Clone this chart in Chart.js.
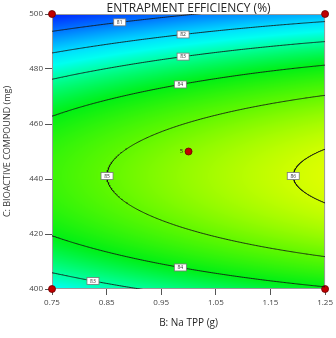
<!DOCTYPE html>
<html lang="en">
<head>
<meta charset="UTF-8">
<title>Entrapment Efficiency</title>
<script src="https://cdn.jsdelivr.net/npm/chart.js@4.4.0/dist/chart.umd.min.js"></script>
<style>
  html, body { margin: 0; padding: 0; background: #fff; }
  #wrap { width: 336px; height: 338px; }
</style>
</head>
<body>
<div id="wrap"><canvas id="chart" width="336" height="338"></canvas></div>
<script>
// factor ranges and ticks
const naTppRange = [0.75, 1.25];
const bioactiveRange = [400, 500];
const xTicks = [0.75, 0.85, 0.95, 1.05, 1.15, 1.25];
const yTicks = [400, 420, 440, 460, 480, 500];

// fitted quadratic, coded units: b0, B, C, B^2, C^2, BC
const coefs = [85.39, 0.754, -1.164, -0.122, -3.27, 0];
const levels = [81, 82, 83, 84, 85, 86];

// design points (center point has 5 replicates)
const designB = [0.75, 1.25, 0.75, 1.25, 1.0];
const designC = [500, 500, 400, 400, 450];
const centerReps = '5';

// where the contour labels sit: level, B, branch
const labelLevels = [81, 82, 83, 84, 85, 86, 84, 83];
const labelB = [0.874, 0.99, 0.99, 0.985, null, null, 0.985, 0.825];
const labelBranch = ['hi', 'hi', 'hi', 'hi', 'tip', 'tip', 'lo', 'lo'];

const FONT = "'Open Sans', 'DejaVu Sans', sans-serif";

const bMid = (naTppRange[0] + naTppRange[1]) / 2, bHalf = (naTppRange[1] - naTppRange[0]) / 2;
const cMid = (bioactiveRange[0] + bioactiveRange[1]) / 2, cHalf = (bioactiveRange[1] - bioactiveRange[0]) / 2;
const toB = u => bMid + u * bHalf;
const toC = v => cMid + v * cHalf;

function response(B, C) {
  const u = (B - bMid) / bHalf, v = (C - cMid) / cHalf;
  const [a, b, c, d, e, f] = coefs;
  return a + b * u + c * v + d * u * u + e * v * v + f * u * v;
}

// v roots of the quadratic for a given u and level
function rootsAt(u, L) {
  const [a, b, c, d, e, f] = coefs;
  const p = c + f * u, q = a + b * u + d * u * u - L;
  const disc = Math.max(0, p * p - 4 * e * q);
  const r1 = (-p + Math.sqrt(disc)) / (2 * e), r2 = (-p - Math.sqrt(disc)) / (2 * e);
  return [Math.max(r1, r2), Math.min(r1, r2)];
}

// u interval where the level exists
function uRange(L) {
  const [a, b, c, d, e, f] = coefs;
  const A2 = f * f - 4 * e * d, A1 = 2 * c * f - 4 * e * b, A0 = c * c - 4 * e * (a - L);
  const dd = A1 * A1 - 4 * A2 * A0;
  if (dd < 0) return A0 >= 0 ? [-1, 1] : null;
  const r = [(-A1 - Math.sqrt(dd)) / (2 * A2), (-A1 + Math.sqrt(dd)) / (2 * A2)].sort((m, n) => m - n);
  if (A2 < 0) return [Math.max(-1, r[0]), Math.min(1, r[1])];
  // A2 >= 0: outside roots; keep simple case
  if (r[1] <= -1 || r[0] >= 1) return [-1, 1];
  return r[1] < 1 ? [r[1], 1] : [-1, r[0]];
}

function contourSets() {
  const sets = [];
  levels.forEach(L => {
    const rng = uRange(L);
    if (!rng) return;
    const [uA, uB] = rng;
    const hi = [], lo = [];
    const N = 220;
    for (let i = 0; i <= N; i++) {
      const u = uA + (uB - uA) * (1 - Math.cos(Math.PI * i / N)) / 2;
      const [vh, vl] = rootsAt(u, L);
      hi.push({ x: toB(u), y: toC(vh) });
      lo.push({ x: toB(u), y: toC(vl) });
    }
    const joined = uA > -1 || uB < 1;
    const paths = joined ? [hi.slice().reverse().concat(lo)] : [hi, lo];
    paths.forEach(p => sets.push({
      type: 'scatter', data: p, showLine: true, pointRadius: 0,
      borderColor: 'rgba(20,20,20,0.85)', borderWidth: 1, tension: 0
    }));
  });
  return sets;
}

// colour map: value -> rgb
const colourStops = [
  [80.0, [0, 25, 255]], [81.0, [0, 115, 255]], [82.0, [0, 220, 255]],
  [82.5, [0, 255, 240]], [83.0, [0, 255, 160]], [84.0, [0, 240, 20]],
  [85.0, [95, 248, 0]], [86.2, [230, 255, 0]]
];
function colourFor(val) {
  if (val <= colourStops[0][0]) return colourStops[0][1];
  for (let i = 1; i < colourStops.length; i++) {
    const [v1, c1] = colourStops[i];
    if (val <= v1) {
      const [v0, c0] = colourStops[i - 1];
      const t = (val - v0) / (v1 - v0);
      return c0.map((c, k) => c + (c1[k] - c) * t);
    }
  }
  return colourStops[colourStops.length - 1][1];
}

const surfacePlugin = {
  id: 'surface',
  beforeDatasetsDraw(chart) {
    const { ctx, chartArea: area, scales: { x, y } } = chart;
    const w = Math.round(area.right - area.left), h = Math.round(area.bottom - area.top);
    const off = document.createElement('canvas');
    off.width = w; off.height = h;
    const octx = off.getContext('2d');
    const img = octx.createImageData(w, h);
    for (let j = 0; j < h; j++) {
      const C = y.getValueForPixel(area.top + j + 0.5);
      for (let i = 0; i < w; i++) {
        const B = x.getValueForPixel(area.left + i + 0.5);
        const col = colourFor(response(B, C));
        const k = (j * w + i) * 4;
        img.data[k] = col[0]; img.data[k + 1] = col[1]; img.data[k + 2] = col[2]; img.data[k + 3] = 255;
      }
    }
    octx.putImageData(img, 0, 0);
    ctx.save();
    ctx.drawImage(off, area.left, area.top);
    ctx.strokeStyle = '#9a9a9a';
    ctx.lineWidth = 1;
    ctx.strokeRect(area.left + 0.5, area.top + 0.5, area.right - area.left - 1, area.bottom - area.top - 1);
    ctx.restore();
  },
  afterDatasetsDraw(chart) {
    const { ctx, chartArea: area, scales: { x, y } } = chart;
    ctx.save();
    ctx.font = '5px ' + FONT;
    ctx.textAlign = 'center';
    ctx.textBaseline = 'middle';
    labelLevels.forEach((L, i) => {
      let u, v;
      if (labelBranch[i] === 'tip') {
        u = uRange(L)[0];
        v = rootsAt(u, L)[0];
      } else {
        u = (labelB[i] - bMid) / bHalf;
        const r = rootsAt(u, L);
        v = labelBranch[i] === 'hi' ? r[0] : r[1];
      }
      const px = x.getPixelForValue(toB(u)), py = y.getPixelForValue(toC(v));
      ctx.fillStyle = '#fff';
      ctx.fillRect(px - 6, py - 3.5, 12, 7);
      ctx.strokeStyle = '#777';
      ctx.lineWidth = 0.8;
      ctx.strokeRect(px - 6, py - 3.5, 12, 7);
      ctx.fillStyle = '#333';
      ctx.fillText(String(L), px, py + 0.3);
    });
    // replicate count by the center point
    ctx.font = '6px ' + FONT;
    ctx.fillStyle = '#222';
    ctx.fillText(centerReps, x.getPixelForValue(designB[4]) - 7, y.getPixelForValue(designC[4]));
    // main title
    ctx.font = '12px ' + FONT;
    ctx.fillStyle = '#262626';
    ctx.textBaseline = 'alphabetic';
    ctx.fillText('ENTRAPMENT EFFICIENCY (%)', (area.left + area.right) / 2, 11.5);
    ctx.restore();
  }
};

const datasets = contourSets();
datasets.push({
  type: 'scatter',
  data: designB.map((b, i) => ({ x: b, y: designC[i] })),
  pointRadius: 3.5, pointHoverRadius: 3.5,
  backgroundColor: '#c00000', borderColor: '#6a0000', borderWidth: 0.8,
  clip: false
});

new Chart(document.getElementById('chart'), {
  type: 'scatter',
  data: { datasets },
  options: {
    responsive: false,
    animation: false,
    events: [],
    layout: { padding: { top: 14, right: 8.5, left: 0, bottom: 0 } },
    plugins: { legend: { display: false }, tooltip: { enabled: false } },
    scales: {
      x: {
        type: 'linear', min: naTppRange[0], max: naTppRange[1],
        afterBuildTicks: s => { s.ticks = xTicks.map(v => ({ value: v })); },
        afterFit: s => { s.height = 49; },
        ticks: { callback: v => v.toFixed(2), font: { size: 8, family: FONT }, color: '#444', padding: 3, maxRotation: 0 },
        grid: { drawOnChartArea: false, tickLength: 6, color: '#555' },
        border: { display: false },
        title: { display: true, text: 'B: Na TPP (g)', font: { size: 10, family: FONT }, color: '#262626', padding: { top: 0, bottom: 9 } }
      },
      y: {
        type: 'linear', min: bioactiveRange[0], max: bioactiveRange[1],
        afterBuildTicks: s => { s.ticks = yTicks.map(v => ({ value: v })); },
        afterFit: s => { s.width = 52; },
        ticks: { callback: v => String(v), font: { size: 8, family: FONT }, color: '#444', padding: 2 },
        grid: { drawOnChartArea: false, tickLength: 7, color: '#555' },
        border: { display: false },
        title: { display: true, text: 'C: BIOACTIVE COMPOUND (mg)', font: { size: 9, family: FONT }, color: '#333', padding: { top: 2.5, bottom: 0 } }
      }
    }
  },
  plugins: [surfacePlugin]
});
</script>
</body>
</html>
